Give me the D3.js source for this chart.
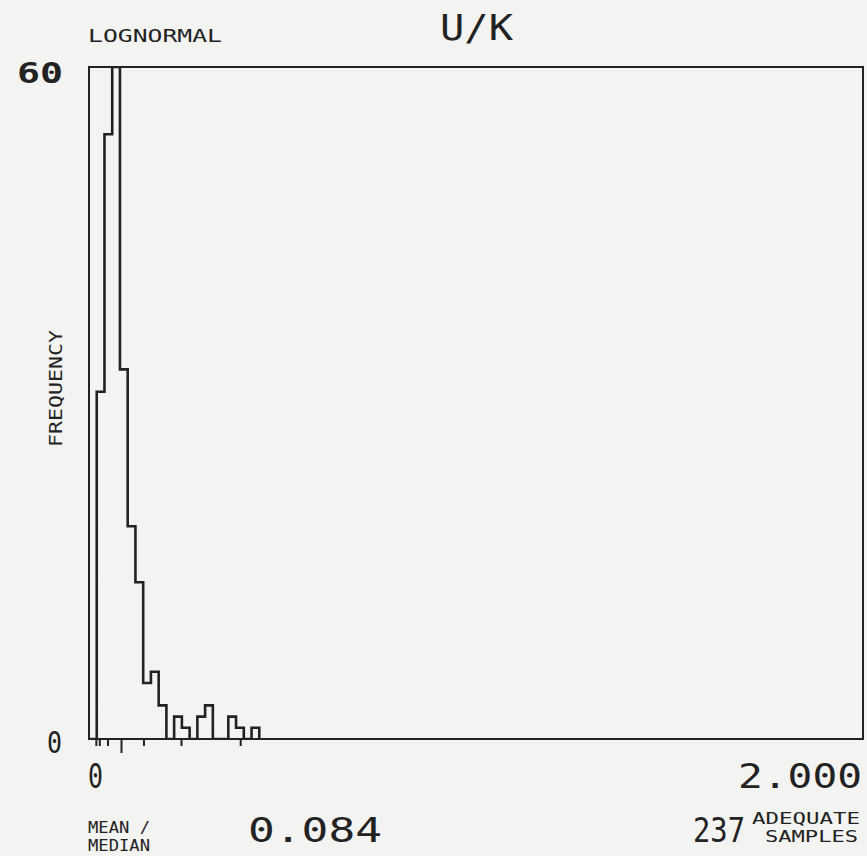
<!DOCTYPE html>
<html>
<head>
<meta charset="utf-8">
<script src="https://cdn.jsdelivr.net/npm/d3@7"></script>
<style>
  html, body { margin: 0; padding: 0; background: #f3f3f1; }
  svg { display: block; }
  text { font-family: "DejaVu Sans Mono", monospace; fill: #222; }
</style>
</head>
<body>
<svg id="chart" width="867" height="856"></svg>
<script>
// histogram of U/K ratio, bin width 0.02 over 0..2
const binWidth = 0.02;
const counts = [0, 31, 54, 60, 33, 19, 14, 5, 6, 3, 0, 2, 1, 0, 2, 3, 0, 0, 2, 1, 0, 1];
// statistic markers under the axis (the long one is the mean/median)
const markerValues = [0.019, 0.028, 0.049, 0.084, 0.142, 0.239, 0.392];
const meanMedian = 0.084;
const xDomain = [0, 2];
const yDomain = [0, 60];
const xTickLabels = ['0', '2.000'];
const yTickLabels = ['0', '60'];

const ink = '#222';
const svg = d3.select('#chart');

const plotL = 89, plotR = 863, plotT = 67, plotB = 739;
const x = d3.scaleLinear().domain(xDomain).range([plotL, plotR]);
const y = d3.scaleLinear().domain(yDomain).range([plotB, plotT]);

svg.append('defs').append('clipPath').attr('id', 'plot-clip')
  .append('rect')
  .attr('x', plotL).attr('y', plotT)
  .attr('width', plotR - plotL).attr('height', plotB - plotT);

// step outline of the histogram
const pts = [[x(0), y(0)]];
counts.forEach((c, i) => {
  pts.push([x(i * binWidth), y(c)]);
  pts.push([x((i + 1) * binWidth), y(c)]);
});
pts.push([x(counts.length * binWidth), y(0)]);

svg.append('path')
  .attr('clip-path', 'url(#plot-clip)')
  .attr('d', d3.line()(pts))
  .attr('fill', 'none')
  .attr('stroke', ink)
  .attr('stroke-width', 2.6)
  .attr('stroke-linejoin', 'miter');

// frame
svg.append('rect')
  .attr('x', plotL).attr('y', plotT)
  .attr('width', plotR - plotL).attr('height', plotB - plotT)
  .attr('fill', 'none')
  .attr('stroke', ink)
  .attr('stroke-width', 2);

// marker ticks below the x axis
svg.append('g').selectAll('line')
  .data(markerValues)
  .enter().append('line')
  .attr('x1', d => x(d)).attr('x2', d => x(d))
  .attr('y1', plotB)
  .attr('y2', d => d === meanMedian ? plotB + 14 : plotB + 7)
  .attr('stroke', ink)
  .attr('stroke-width', 2);

function label(txt, px, py, size, len, opts = {}) {
  const t = svg.append('text')
    .attr('x', px).attr('y', py)
    .attr('font-size', size)
    .attr('font-weight', opts.bold ? 'bold' : 'normal')
    .attr('textLength', len)
    .attr('lengthAdjust', 'spacingAndGlyphs')
    .text(txt);
  if (opts.rotate) t.attr('transform', `rotate(-90, ${px}, ${py})`);
  return t;
}

// titles
label('LOGNORMAL', 88, 42, 17, 134);
label('U/K', 440, 40, 35, 73);

// y tick labels
label(yTickLabels[1], 17, 83, 29, 46, { bold: true });
label(yTickLabels[0], 47, 753, 31, 15);
label('FREQUENCY', 62, 447, 18, 117, { rotate: true });

// x tick labels
label(xTickLabels[0], 88, 788, 33, 15);
label(xTickLabels[1], 738, 788, 33, 124);

// footer stats
label('MEAN /', 88, 833, 15, 62);
label('MEDIAN', 88, 851, 15, 62);
label(meanMedian.toFixed(3), 248, 842, 33, 134);
label(String(d3.sum(counts)), 693, 842, 33, 52);
label('ADEQUATE', 752, 824, 15, 108);
label('SAMPLES', 765, 842, 15, 93);
</script>
</body>
</html>
